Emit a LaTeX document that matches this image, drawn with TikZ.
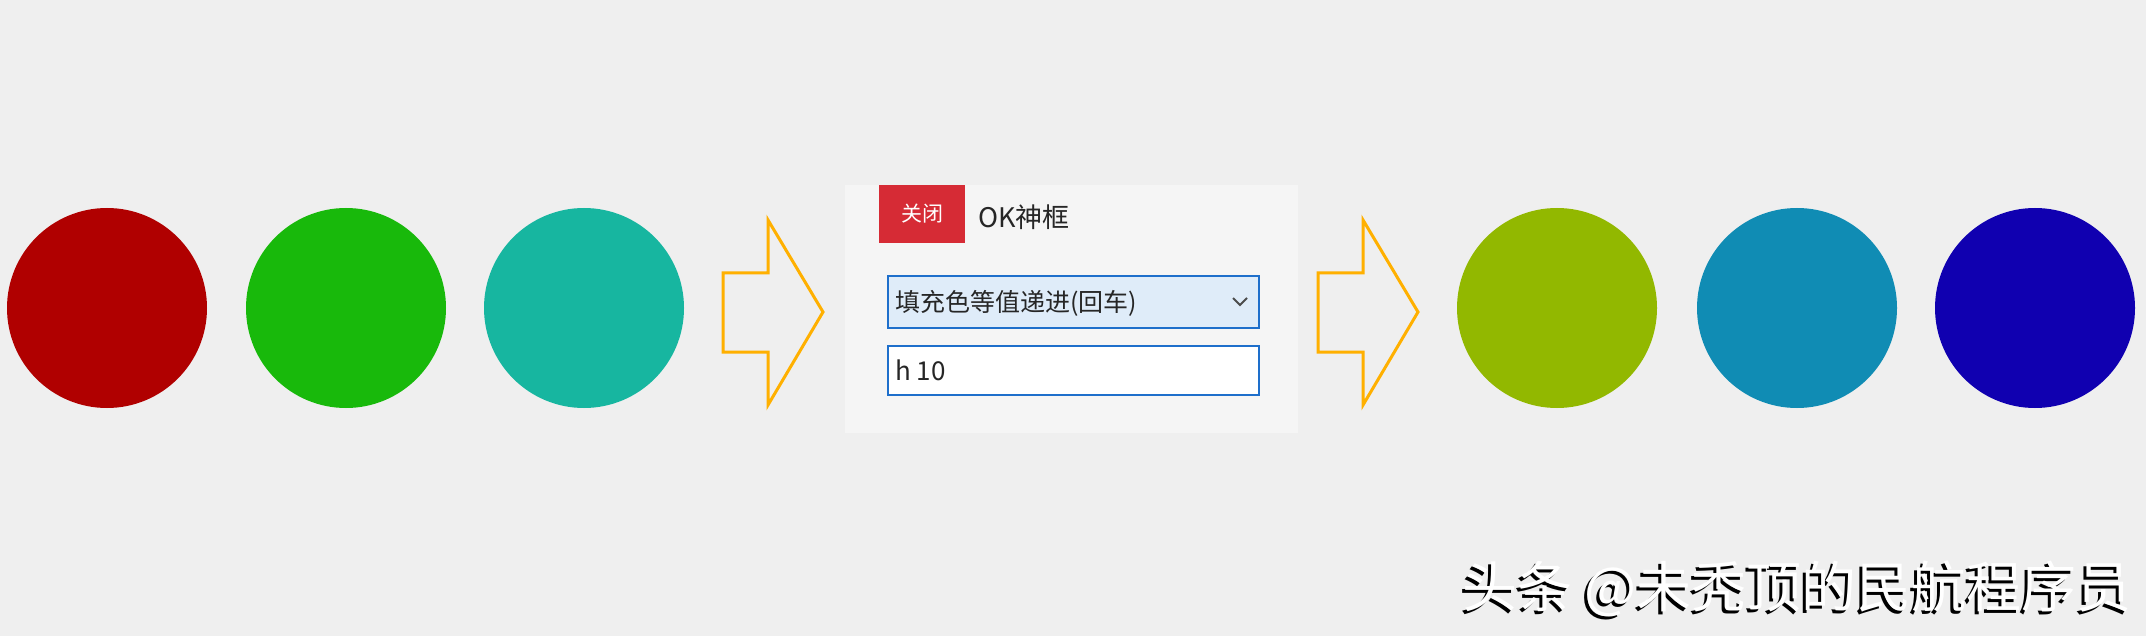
\documentclass[tikz,border=0pt]{standalone}
\usepackage{fontspec}
\setmainfont{Noto Sans CJK SC}
\definecolor{bg}{HTML}{EFEFEF}
\definecolor{panel}{HTML}{F5F5F5}
\definecolor{c1}{HTML}{B00000}
\definecolor{c2}{HTML}{18B90B}
\definecolor{c3}{HTML}{17B6A0}
\definecolor{c4}{HTML}{92B800}
\definecolor{c5}{HTML}{108CB4}
\definecolor{c6}{HTML}{1000B0}
\definecolor{arrowc}{HTML}{FFB000}
\definecolor{btnred}{HTML}{D62B35}
\definecolor{uiblue}{HTML}{1E6FCB}
\definecolor{combofill}{HTML}{DFECF9}
\tikzset{
  dot/.style={circle, inner sep=0pt, minimum size=200pt, fill=#1},
  bigarrow/.style={draw=arrowc, line width=3pt, line join=miter},
  uibox/.style={rectangle, inner sep=0pt, draw=uiblue, line width=2pt, minimum width=371pt},
  uitext/.style={anchor=west, inner sep=0pt, text=black!85},
  wmfont/.style={font=\fontsize{55}{60}\selectfont},
}
\begin{document}
\begin{tikzpicture}[x=1pt, y=-1pt]
\fill[bg] (0,0) rectangle (2146,636);
\useasboundingbox (0,0) rectangle (2146,636);
% circles left
\node[dot=c1] (d1) at (107,308) {};
\node[dot=c2] (d2) at (346,308) {};
\node[dot=c3] (d3) at (584,308) {};
% circles right
\node[dot=c4] (d4) at (1557,308) {};
\node[dot=c5] (d5) at (1797,308) {};
\node[dot=c6] (d6) at (2035,308) {};
% arrows
\draw[bigarrow] (723,273) -- (768,273) -- (768,220) -- (823,312) -- (768,405) -- (768,352) -- (723,352) -- cycle;
\begin{scope}[xshift=595pt]
\draw[bigarrow] (723,273) -- (768,273) -- (768,220) -- (823,312) -- (768,405) -- (768,352) -- (723,352) -- cycle;
\end{scope}
% dialog
\node[rectangle, fill=panel, inner sep=0pt, minimum width=453pt, minimum height=248pt] (panel) at (1071.5,309) {};
\node[rectangle, fill=btnred, inner sep=0pt, minimum width=86pt, minimum height=58pt, text=white, font=\fontsize{21}{24}\selectfont] (close) at (922,214) {\raisebox{-1pt}{关闭}};
\node[uitext, font=\fontsize{27}{30}\selectfont] (title) at (978,217) {OK神框};
\node[uibox, fill=combofill, minimum height=52pt] (combo) at (1073.5,302) {};
\node[uitext, font=\fontsize{25}{28}\selectfont] (combotext) at (895,303) {填充色等值递进(回车)};
\draw[black!70, line width=2pt] (1233,298) -- (1240,305) -- (1247,298);
\node[uibox, fill=white, minimum height=49pt] (input) at (1073.5,370.5) {};
\node[uitext, font=\fontsize{26}{29}\selectfont] (inputtext) at (895,370) {h 10};
% watermark
\node[anchor=west, inner sep=0pt, text=black, wmfont] (wmshadow) at (1459,592) {头条 @未秃顶的民航程序员};
\node[anchor=west, inner sep=0pt, text=white, wmfont] (wm) at (1462,589) {头条 @未秃顶的民航程序员};
\end{tikzpicture}
\end{document}
